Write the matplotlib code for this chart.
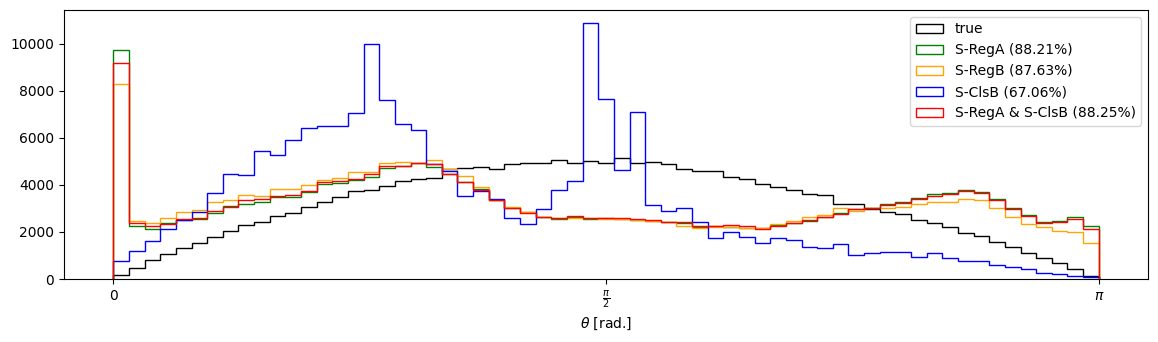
import numpy as np
import matplotlib
matplotlib.use("Agg")
import matplotlib.pyplot as plt

# histogram counts per bin, 63 equal bins over [0, pi]
N_BINS = 63
true_counts = [150, 452, 819, 1045, 1300, 1540, 1793, 2030, 2288, 2429,
               2669, 2811, 3065, 3277, 3489, 3729, 3771, 3970, 4182, 4251,
               4294, 4661, 4731, 4770, 4690, 4873, 4943, 4943, 5042, 4929,
               5030, 4943, 5155, 4943, 4971, 4901, 4689, 4576, 4576, 4315,
               4230, 4025, 3925, 3771, 3630, 3550, 3206, 3206, 2952, 2826,
               2740, 2500, 2359, 2217, 1963, 1822, 1582, 1342, 1088, 876,
               664, 424, 127]
rega_counts = [9733, 2260, 2118, 2359, 2500, 2556, 2783, 3080, 3164, 3277,
               3489, 3489, 3701, 4025, 4082, 4200, 4335, 4731, 4788, 4943,
               4760, 4478, 4122, 3828, 3347, 3023, 2839, 2613, 2557, 2641,
               2528, 2571, 2560, 2520, 2480, 2401, 2360, 2200, 2240, 2200,
               2146, 2146, 2280, 2380, 2470, 2650, 2790, 2990, 3030, 3180,
               3270, 3430, 3600, 3660, 3771, 3700, 3400, 3023, 2712, 2401,
               2460, 2613, 2246]
regb_counts = [8262, 2444, 2373, 2599, 2826, 2924, 3249, 3376, 3588, 3531,
               3843, 3843, 4012, 4224, 4309, 4534, 4534, 4943, 4986, 4943,
               5071, 4661, 4378, 3886, 3376, 3065, 2853, 2613, 2571, 2599,
               2571, 2560, 2542, 2510, 2470, 2410, 2260, 2175, 2200, 2217,
               2175, 2175, 2316, 2458, 2641, 2712, 2994, 2895, 3023, 2994,
               3050, 3178, 3249, 3277, 3418, 3376, 2994, 2613, 2330, 2189,
               2034, 1977, 1511]
clsb_counts = [763, 1186, 1610, 2118, 2500, 2826, 3673, 4440, 4407, 5453,
               5254, 5902, 6411, 6483, 6483, 7063, 9986, 7584, 6597, 6313,
               4870, 4600, 3546, 3750, 3400, 2571, 2316, 2952, 3800, 4152,
               10880, 7655, 4610, 7097, 3135, 2888, 2994, 2415, 1723, 2010,
               1793, 1525, 1723, 1652, 1356, 1314, 1469, 1017, 1088, 1130,
               1130, 918, 1088, 876, 777, 763, 593, 523, 424, 240,
               198, 127, 70]
combo_counts = [9152, 2387, 2260, 2316, 2529, 2599, 2881, 3050, 3376, 3404,
                3531, 3588, 3743, 4122, 4152, 4260, 4450, 4802, 4802, 4943,
                4880, 4478, 4122, 3771, 3376, 2994, 2783, 2641, 2599, 2669,
                2599, 2571, 2600, 2540, 2500, 2401, 2401, 2246, 2260, 2274,
                2231, 2133, 2260, 2373, 2500, 2630, 2770, 2952, 2994, 3135,
                3234, 3390, 3531, 3602, 3743, 3672, 3376, 2980, 2684, 2359,
                2429, 2528, 2118]

series = [
    ("true", true_counts, "black"),
    ("S-RegA (88.21%)", rega_counts, "green"),
    ("S-RegB (87.63%)", regb_counts, "orange"),
    ("S-ClsB (67.06%)", clsb_counts, "blue"),
    ("S-RegA & S-ClsB (88.25%)", combo_counts, "red"),
]

edges = np.linspace(0, np.pi, N_BINS + 1)
centers = 0.5 * (edges[:-1] + edges[1:])

fig, ax = plt.subplots(figsize=(11.58, 3.42), dpi=100)
fig.subplots_adjust(left=0.0553, right=0.9914, top=0.9708, bottom=0.1842)

for label, counts, color in series:
    ax.hist(centers, bins=edges, weights=counts, histtype="step",
            color=color, label=label, linewidth=1)

ax.set_xticks([0, np.pi / 2, np.pi])
ax.set_xticklabels(["0", r"$\frac{\pi}{2}$", r"$\pi$"])
ax.set_xlabel(r"$\theta$ [rad.]")
ax.legend(loc="upper right")

fig.savefig("out.png", dpi=100)
